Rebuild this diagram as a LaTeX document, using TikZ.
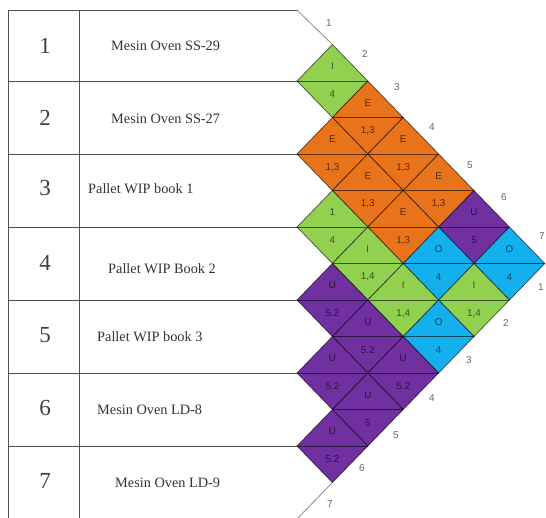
\documentclass[tikz,border=0pt]{standalone}
\usepackage{fontspec}
\setmainfont{Liberation Serif}
\newfontfamily\cellfont{Liberation Sans}
\definecolor{cgreen}{HTML}{92D050}
\definecolor{corange}{HTML}{E8731A}
\definecolor{cpurple}{HTML}{7030A0}
\definecolor{cblue}{HTML}{14B0EE}
\definecolor{tline}{HTML}{505050}
\definecolor{oline}{HTML}{8A8A8A}
\tikzset{
  tabline/.style={draw=tline, line width=0.8pt},
  outline/.style={draw=oline, line width=0.8pt},
  celledge/.style={draw=black, draw opacity=0.6, line width=0.75pt},
  celltext/.style={font=\cellfont\fontsize{9.8}{11}\selectfont, text=black, text opacity=0.62, inner sep=0pt},
  edgelabel/.style={font=\cellfont\fontsize{10}{11}\selectfont, text=black!60, inner sep=0pt},
  numtext/.style={font=\fontsize{23}{26}\selectfont, text=black!75, inner sep=0pt},
  nametext/.style={font=\fontsize{14.3}{16}\selectfont, text=black!80, anchor=west, inner sep=0pt}
}
\begin{document}
\begin{tikzpicture}[x=1pt,y=-1pt]
\useasboundingbox (0,0) rectangle (546,517);
\clip (0,0) rectangle (546,517);
% table frame
\draw[tabline] (8,10) -- (8,520);
\draw[tabline] (79,10) -- (79,520);
\foreach \yy in {10,81,154,227,300,373,446}{
  \draw[tabline] (8,\yy) -- (297,\yy);
}
% outline diagonals
\coordinate (tl) at (297,10);
\coordinate (tapex) at (332.4,44.5);
\coordinate (bapex) at (332.4,482.5);
\coordinate (bl) at (297,519);
\draw[outline] (tl) -- (tapex);
\draw[outline] (bapex) -- (bl);
% diamonds
\foreach \i/\j/\u/\l/\c in {
  1/2/I/4/cgreen, 1/3/E/{1,3}/corange, 1/4/E/{1,3}/corange, 1/5/E/{1,3}/corange,
  1/6/U/5/cpurple, 1/7/O/4/cblue,
  2/3/E/{1,3}/corange, 2/4/E/{1,3}/corange, 2/5/E/{1,3}/corange, 2/6/O/4/cblue,
  2/7/I/{1,4}/cgreen,
  3/4/1/4/cgreen, 3/5/I/{1,4}/cgreen, 3/6/I/{1,4}/cgreen, 3/7/O/4/cblue,
  4/5/U/5.2/cpurple, 4/6/U/5.2/cpurple, 4/7/U/5.2/cpurple,
  5/6/U/5.2/cpurple, 5/7/U/5/cpurple,
  6/7/U/5.2/cpurple}{
  \pgfmathsetmacro\cx{297+35.4*(\j-\i)}
  \pgfmathsetmacro\cy{44.5+36.5*(\i+\j-2)}
  \fill[\c] (\cx-35.4,\cy) -- (\cx,\cy-36.5) -- (\cx+35.4,\cy) -- (\cx,\cy+36.5) -- cycle;
  \draw[celledge] (\cx-35.4,\cy) -- (\cx,\cy-36.5) -- (\cx+35.4,\cy) -- (\cx,\cy+36.5) -- cycle;
  \draw[celledge] (\cx-35.4,\cy) -- (\cx+35.4,\cy);
  \node[celltext] (u\i\j) at (\cx,\cy-14.5) {\u};
  \node[celltext] (l\i\j) at (\cx,\cy+13.5) {\l};
}
% edge labels (upper right)
\node[edgelabel] (ea1) at (329,23) {1};
\node[edgelabel] (ea2) at (365,54) {2};
\node[edgelabel] (ea3) at (397,87) {3};
\node[edgelabel] (ea4) at (432,127) {4};
\node[edgelabel] (ea5) at (470,165) {5};
\node[edgelabel] (ea6) at (504,197) {6};
\node[edgelabel] (ea7) at (542,236) {7};
% edge labels (lower right)
\node[edgelabel] (eb1) at (541,287) {1};
\node[edgelabel] (eb2) at (506,323) {2};
\node[edgelabel] (eb3) at (469,360) {3};
\node[edgelabel] (eb4) at (432,398) {4};
\node[edgelabel] (eb5) at (396,435) {5};
\node[edgelabel] (eb6) at (362,468) {6};
\node[edgelabel] (eb7) at (330,504) {7};
% numbers
\node[numtext] (n1) at (45,46) {1};
\node[numtext] (n2) at (45,118) {2};
\node[numtext] (n3) at (45,188) {3};
\node[numtext] (n4) at (45,263) {4};
\node[numtext] (n5) at (45,335) {5};
\node[numtext] (n6) at (45,408) {6};
\node[numtext] (n7) at (45,481) {7};
% names
\node[nametext] (m1) at (111,45.5) {Mesin Oven SS-29};
\node[nametext] (m2) at (111,118.5) {Mesin Oven SS-27};
\node[nametext] (m3) at (88,189) {Pallet WIP book 1};
\node[nametext] (m4) at (108,269) {Pallet WIP Book 2};
\node[nametext] (m5) at (97,337) {Pallet WIP book 3};
\node[nametext] (m6) at (97,410) {Mesin Oven LD-8};
\node[nametext] (m7) at (115,483) {Mesin Oven LD-9};
\end{tikzpicture}
\end{document}
